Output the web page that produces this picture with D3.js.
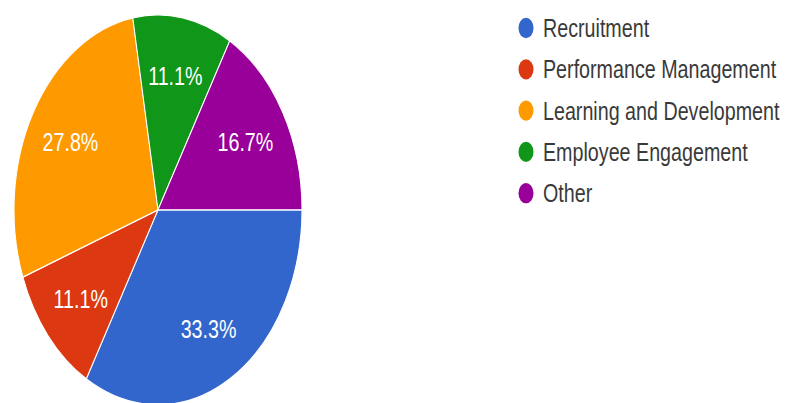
<!DOCTYPE html>
<html>
<head>
<meta charset="utf-8">
<script src="https://cdn.jsdelivr.net/npm/d3@7"></script>
<style>
  html, body { margin: 0; padding: 0; background: #ffffff; }
  svg { display: block; }
  text { font-family: "Liberation Sans", Arial, sans-serif; }
</style>
</head>
<body>
<svg id="chart" width="788" height="403"></svg>
<script>
// Share of responses per HR area (percent)
const categories = ["Recruitment", "Performance Management", "Learning and Development", "Employee Engagement", "Other"];
const shares = [33.3, 11.1, 27.8, 11.1, 16.7];
const colors = ["#3366cc", "#dc3912", "#ff9900", "#109618", "#990099"];

const yStretch = 1.354;          // chart is drawn tall: vertical scale factor
const cx = 158, cy = 155, R = 144;
const labelR = 101;
const fontSize = 19.7;

const svg = d3.select("#chart");
const root = svg.append("g").attr("transform", `scale(1,${yStretch})`);

const data = categories.map((c, i) => ({ name: c, value: shares[i] }));
const color = d3.scaleOrdinal().domain(categories).range(colors);

// Slices start at 3 o'clock and run clockwise
const pie = d3.pie()
  .value(d => d.value)
  .sort(null)
  .startAngle(Math.PI / 2)
  .endAngle(Math.PI / 2 + 2 * Math.PI);

const arc = d3.arc().innerRadius(0).outerRadius(R);
const labelArc = d3.arc().innerRadius(labelR).outerRadius(labelR);

const g = root.append("g").attr("transform", `translate(${cx},${cy})`);
const arcs = pie(data);

g.selectAll("path.slice")
  .data(arcs)
  .join("path")
  .attr("class", "slice")
  .attr("d", arc)
  .attr("fill", d => color(d.data.name))
  .attr("stroke", "#ffffff")
  .attr("stroke-width", 1);

g.selectAll("text.pct")
  .data(arcs)
  .join("text")
  .attr("class", "pct")
  .attr("transform", d => `translate(${labelArc.centroid(d)})`)
  .attr("text-anchor", "middle")
  .attr("dy", "0.36em")
  .attr("fill", "#ffffff")
  .attr("font-size", fontSize)
  .text(d => d3.format(".1f")(d.data.value) + "%");

// Legend
const legend = root.append("g").attr("transform", "translate(526,20.7)");
const step = 30.5;
const item = legend.selectAll("g.item")
  .data(categories)
  .join("g")
  .attr("class", "item")
  .attr("transform", (d, i) => `translate(0,${i * step})`);

item.append("circle")
  .attr("r", 7.5)
  .attr("fill", d => color(d));

item.append("text")
  .attr("x", 17)
  .attr("dy", "0.34em")
  .attr("fill", "#3a3a3a")
  .attr("font-size", fontSize)
  .text(d => d);
</script>
</body>
</html>
